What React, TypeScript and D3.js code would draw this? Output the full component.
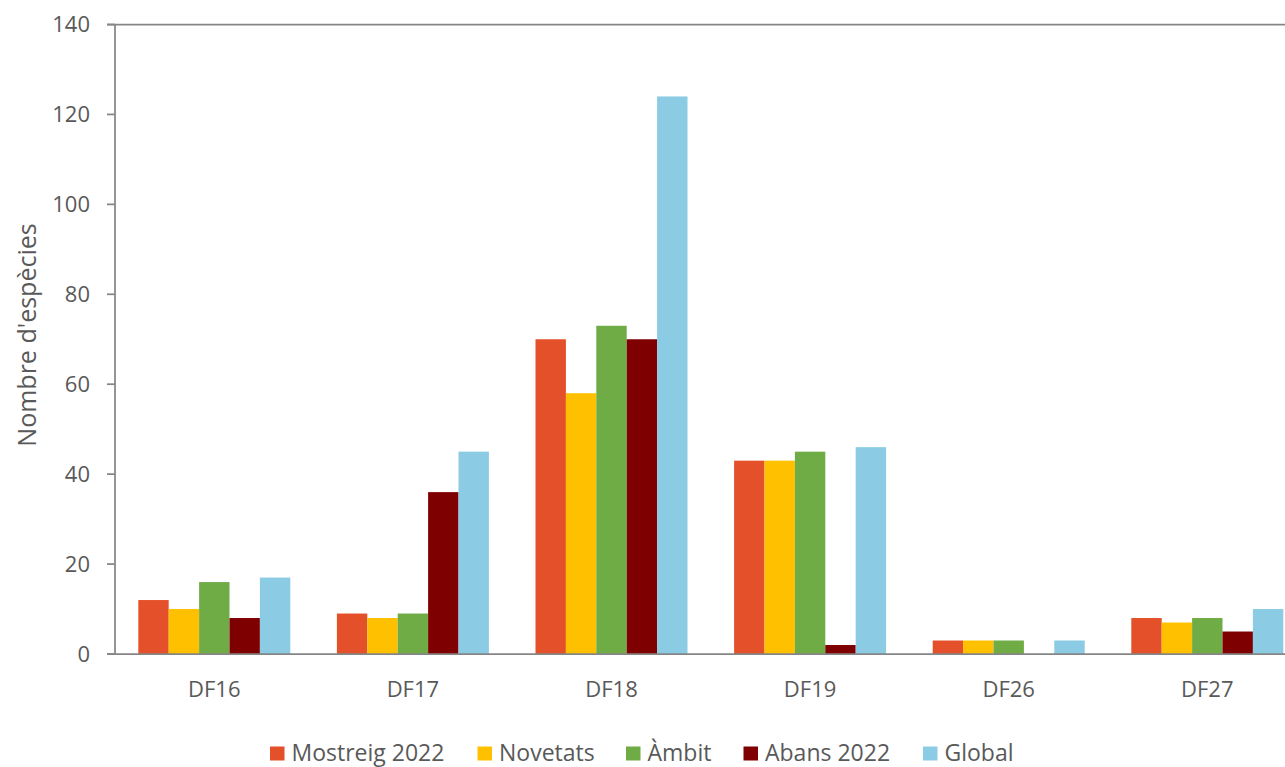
import React from "react";
import * as d3 from "d3";

const categories = ["DF16", "DF17", "DF18", "DF19", "DF26", "DF27"];
const seriesNames = ["Mostreig 2022", "Novetats", "Àmbit", "Abans 2022", "Global"];
const mostreig2022 = [12, 9, 70, 43, 3, 8];
const novetats = [10, 8, 58, 43, 3, 7];
const ambit = [16, 9, 73, 45, 3, 8];
const abans2022 = [8, 36, 70, 2, 0, 5];
const global = [17, 45, 124, 46, 3, 10];
const seriesValues = [mostreig2022, novetats, ambit, abans2022, global];
const colors = ["#E4502A", "#FFC000", "#6FAC46", "#7F0000", "#8BCBE3"];
const yTicks = [0, 20, 40, 60, 80, 100, 120, 140];
const yTitle = "Nombre d'espècies";

// legend marker positions (layout only)
const legendX = [270, 477.5, 626, 743.5, 923];

export default function App() {
  const W = 1285, H = 767;
  const left = 115, top = 24.5, bottom = 654;
  const step = 198.6;
  const x0 = d3.scaleBand<string>().domain(categories).range([left, left + step * categories.length]).padding(0);
  const x1 = d3.scaleBand<string>().domain(seriesNames).range([23.3, 175.3]).padding(0);
  const y = d3.scaleLinear().domain([0, 140]).range([bottom, top]);
  const axisColor = "#868686";
  const textColor = "#595959";
  const font = "'Open Sans', sans-serif";

  return (
    <svg width={W} height={H} style={{ position: "absolute", left: 0, top: 0, background: "#fff" }} fontFamily={font}>
      <rect x={0} y={0} width={W} height={H} fill="#fff" />
      {/* bars */}
      {categories.map((c, ci) => (
        <g key={c} transform={`translate(${x0(c)},0)`}>
          {seriesNames.map((s, si) => {
            const v = seriesValues[si][ci];
            return (
              <rect
                key={s}
                x={x1(s)}
                y={y(v)}
                width={x1.bandwidth()}
                height={bottom - y(v)}
                fill={colors[si]}
              />
            );
          })}
        </g>
      ))}
      {/* top border */}
      <line x1={107} x2={W + 30} y1={y(140)} y2={y(140)} stroke={axisColor} strokeWidth={1.75} />
      {/* x axis */}
      <line x1={107} x2={W + 30} y1={y(0)} y2={y(0)} stroke={axisColor} strokeWidth={1.75} />
      {/* y axis */}
      <line x1={left} x2={left} y1={y(140)} y2={y(0)} stroke={axisColor} strokeWidth={1.75} />
      {yTicks.map((t) => (
        <g key={t}>
          <line x1={107} x2={left} y1={y(t)} y2={y(t)} stroke={axisColor} strokeWidth={1.75} />
          <text x={90} y={y(t)} dy="0.36em" textAnchor="end" fontSize={22} fill={textColor}>
            {t}
          </text>
        </g>
      ))}
      {/* category labels */}
      {categories.map((c) => (
        <text key={c} x={(x0(c) as number) + x0.bandwidth() / 2} y={696.5} textAnchor="middle" fontSize={22} fill={textColor}>
          {c}
        </text>
      ))}
      {/* y title */}
      <text transform={`translate(36,335) rotate(-90)`} textAnchor="middle" fontSize={25} fill={textColor}>
        {yTitle}
      </text>
      {/* legend */}
      {seriesNames.map((s, si) => (
        <g key={s}>
          <rect x={legendX[si]} y={746.5} width={14.5} height={14} fill={colors[si]} />
          <text x={legendX[si] + 21.5} y={761} fontSize={23} fill={textColor}>
            {s}
          </text>
        </g>
      ))}
    </svg>
  );
}
